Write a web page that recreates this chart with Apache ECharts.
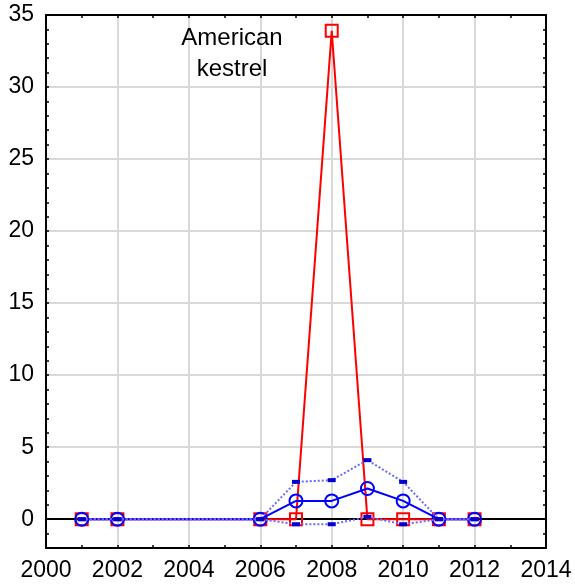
<!DOCTYPE html>
<html>
<head>
<meta charset="utf-8">
<script src="https://cdn.jsdelivr.net/npm/echarts@6/dist/echarts.min.js"></script>
<style>
html,body{margin:0;padding:0;background:#fff;}
#chart{width:575px;height:585px;}
</style>
</head>
<body>
<div id="chart"></div>
<script>
// Data
var years = [2001, 2002, 2006, 2007, 2008, 2009, 2010, 2011, 2012];
var redValues = [0, 0, 0, 0, 33.9, 0, 0, 0, 0];
var meanValues = [0, 0, 0, 1.27, 1.27, 2.13, 1.27, 0, 0];
var upperValues = [0, 0, 0, 2.59, 2.71, 4.1, 2.59, 0, 0];
var lowerValues = [0, 0, 0, -0.35, -0.35, 0.16, -0.35, 0, 0];
var annotation = 'American\nkestrel';
var xMin = 2000, xMax = 2014, xStep = 2;
var yMin = -2, yMax = 35;

function pairs(vals) {
  return years.map(function (y, i) { return [y, vals[i]]; });
}

var FONT = 'Liberation Sans, Arial, sans-serif';
var chart = echarts.init(document.getElementById('chart'), null, {renderer: 'canvas'});

var tickStyle = {color: '#000', width: 1.5};

var option = {
  backgroundColor: '#ffffff',
  animation: false,
  title: {
    text: annotation,
    left: 232,
    top: 23,
    padding: 0,
    textAlign: 'center',
    textStyle: {fontFamily: FONT, fontSize: 24, fontWeight: 'normal', color: '#000', lineHeight: 31}
  },
  grid: {left: 46, right: 29, top: 15, bottom: 37, containLabel: false},
  xAxis: [
    {
      type: 'value', position: 'bottom', min: xMin, max: xMax, interval: xStep,
      axisLine: {show: true, onZero: false, lineStyle: {color: '#000', width: 2}},
      axisTick: {show: true, inside: true, length: 3, lineStyle: tickStyle},
      minorTick: {show: true, splitNumber: 2, length: 3, lineStyle: tickStyle},
      axisLabel: {show: true, margin: 11, color: '#000', fontSize: 23, fontFamily: FONT,
        showMinLabel: true, showMaxLabel: true,
        formatter: function (v) { return String(v); }},
      splitLine: {show: true, lineStyle: {color: '#d9d9d9', width: 2}}
    },
    {
      type: 'value', position: 'top', min: xMin, max: xMax, interval: xStep,
      axisLine: {show: true, onZero: false, lineStyle: {color: '#000', width: 2}},
      axisTick: {show: true, inside: true, length: 3, lineStyle: tickStyle},
      minorTick: {show: true, splitNumber: 2, length: 3, lineStyle: tickStyle},
      axisLabel: {show: false},
      splitLine: {show: false}
    }
  ],
  yAxis: [
    {
      type: 'value', position: 'left', min: yMin, max: yMax, splitNumber: 8,
      axisLine: {show: true, onZero: false, lineStyle: {color: '#000', width: 2}},
      axisTick: {show: false},
      axisLabel: {show: true, margin: 12, color: '#000', fontSize: 23, fontFamily: FONT,
        formatter: function (v) { return (v >= 0 && v % 5 === 0) ? String(v) : ''; }},
      splitLine: {show: true, lineStyle: {color: '#d9d9d9', width: 2}}
    },
    {
      type: 'value', position: 'left', min: yMin, max: yMax, interval: 1,
      axisLine: {show: false, onZero: false},
      axisTick: {show: true, inside: true, length: 3, lineStyle: tickStyle},
      axisLabel: {show: false},
      splitLine: {show: false}
    },
    {
      type: 'value', position: 'right', min: yMin, max: yMax, interval: 1,
      axisLine: {show: true, onZero: false, lineStyle: {color: '#000', width: 2}},
      axisTick: {show: true, inside: true, length: 3, lineStyle: tickStyle},
      axisLabel: {show: false},
      splitLine: {show: false}
    }
  ],
  series: [
    {
      name: 'red', type: 'line', xAxisIndex: 0, yAxisIndex: 0, z: 3,
      data: pairs(redValues),
      symbol: 'rect', symbolSize: 12,
      lineStyle: {color: '#ff0000', width: 2},
      itemStyle: {color: 'rgba(0,0,0,0)', borderColor: '#ff0000', borderWidth: 2},
      markLine: {
        silent: true, symbol: 'none', z: 1,
        label: {show: false},
        lineStyle: {color: '#000', width: 2, type: 'solid'},
        emphasis: {disabled: true},
        data: [{yAxis: 0}]
      }
    },
    {
      name: 'mean', type: 'line', xAxisIndex: 0, yAxisIndex: 0, z: 4,
      data: pairs(meanValues),
      symbol: 'circle', symbolSize: 13,
      lineStyle: {color: '#0000ff', width: 2},
      itemStyle: {color: 'rgba(0,0,0,0)', borderColor: '#0000ff', borderWidth: 2}
    },
    {
      name: 'upper', type: 'line', xAxisIndex: 0, yAxisIndex: 0, z: 5,
      data: pairs(upperValues),
      symbol: 'rect', symbolSize: [8, 4],
      lineStyle: {color: '#6a6aff', width: 2, type: [2, 2]},
      itemStyle: {color: '#0000d0'}
    },
    {
      name: 'lower', type: 'line', xAxisIndex: 0, yAxisIndex: 0, z: 5,
      data: pairs(lowerValues),
      symbol: 'rect', symbolSize: [8, 4],
      lineStyle: {color: '#6a6aff', width: 2, type: [2, 2]},
      itemStyle: {color: '#0000d0'}
    }
  ]
};
chart.setOption(option);
</script>
</body>
</html>
